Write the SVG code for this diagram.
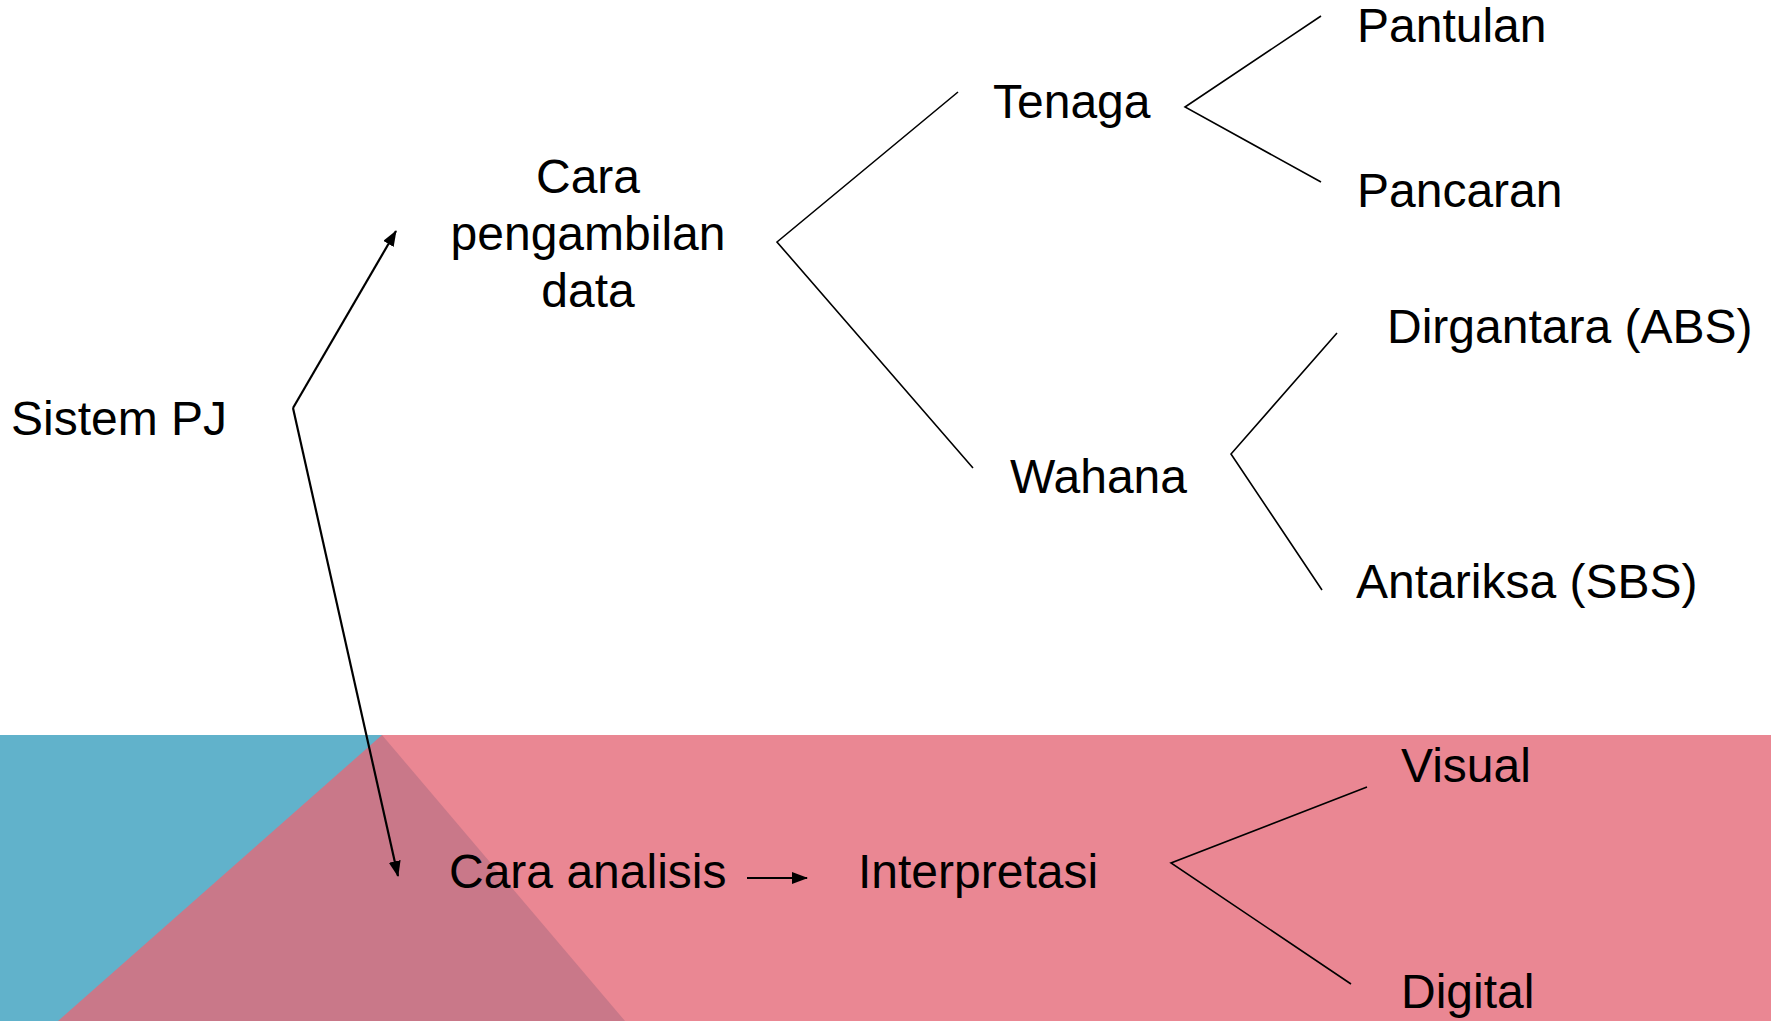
<svg xmlns="http://www.w3.org/2000/svg" width="1771" height="1021" viewBox="0 0 1771 1021">
<style>
  .t { font-family: "Liberation Sans", Arial, sans-serif; font-size: 48px; fill: #000; }
  .br { fill: none; stroke: #000; stroke-width: 1.6; }
  .ar { fill: none; stroke: #000; stroke-width: 2.2; }
</style>
<defs>
  <marker id="ah" markerUnits="userSpaceOnUse" markerWidth="16" markerHeight="12" refX="15" refY="6" orient="auto">
    <path d="M0,0 L16,6 L0,12 Z" fill="#000"/>
  </marker>
</defs>
<rect width="1771" height="1021" fill="#ffffff"/>
<g id="background">
  <rect x="0" y="735" width="383" height="286" fill="#61B2CB"/>
  <rect x="382" y="735" width="1389" height="286" fill="#EA8793"/>
  <polygon points="382,735 58,1021 625,1021" fill="#C97889"/>
</g>
<g id="connectors">
  <line class="ar" x1="293" y1="408" x2="396" y2="231" marker-end="url(#ah)"/>
  <line class="ar" x1="293" y1="408" x2="398" y2="876" marker-end="url(#ah)"/>
  <line class="ar" x1="747" y1="878" x2="807" y2="878" marker-end="url(#ah)"/>
  <polyline class="br" points="958,92 777,242 973,468"/>
  <polyline class="br" points="1321,16 1185,107 1321,182"/>
  <polyline class="br" points="1337,333 1231,454 1322,590"/>
  <polyline class="br" points="1367,787 1171,863 1351,984"/>
</g>
<g id="node-sistem"><text class="t" x="11" y="435">Sistem PJ</text></g>
<g id="node-cara-pengambilan">
  <text class="t" x="588" y="193" text-anchor="middle">Cara</text>
  <text class="t" x="588" y="250" text-anchor="middle">pengambilan</text>
  <text class="t" x="588" y="307" text-anchor="middle">data</text>
</g>
<g id="node-tenaga"><text class="t" x="993" y="118">Tenaga</text></g>
<g id="node-pantulan"><text class="t" x="1357" y="42">Pantulan</text></g>
<g id="node-pancaran"><text class="t" x="1357" y="207">Pancaran</text></g>
<g id="node-wahana"><text class="t" x="1010" y="493">Wahana</text></g>
<g id="node-dirgantara"><text class="t" x="1387" y="343">Dirgantara (ABS)</text></g>
<g id="node-antariksa"><text class="t" x="1356" y="598">Antariksa (SBS)</text></g>
<g id="node-cara-analisis"><text class="t" x="449" y="888">Cara analisis</text></g>
<g id="node-interpretasi"><text class="t" x="858" y="888">Interpretasi</text></g>
<g id="node-visual"><text class="t" x="1401" y="782">Visual</text></g>
<g id="node-digital"><text class="t" x="1401" y="1008">Digital</text></g>
</svg>
